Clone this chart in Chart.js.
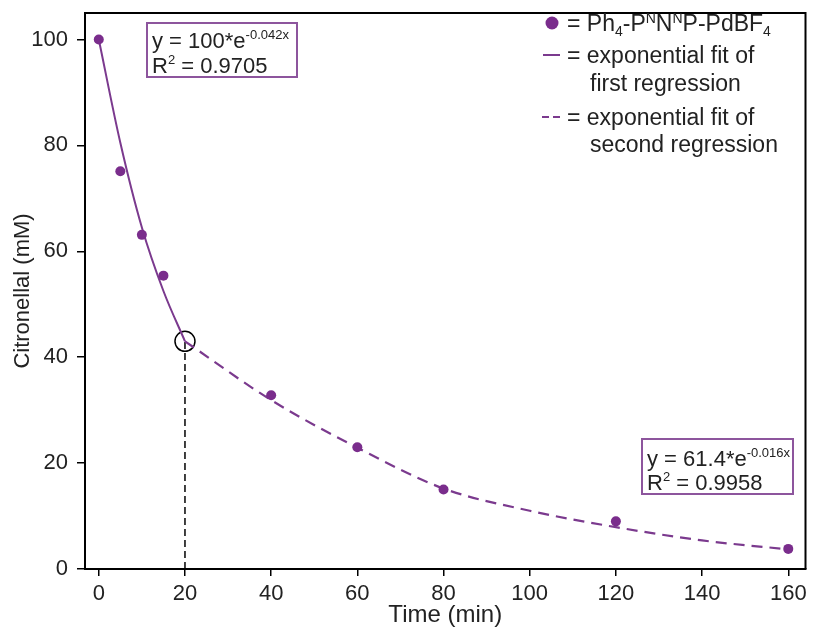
<!DOCTYPE html>
<html><head><meta charset="utf-8">
<script src="https://cdn.jsdelivr.net/npm/chart.js@4/dist/chart.umd.min.js"></script>
<style>html,body{margin:0;padding:0;background:#fff}</style>
</head><body>
<canvas id="c" width="817" height="630"></canvas>
<script>
// ---- data ----
const timeMin = [0, 5, 10, 15, 40, 60, 80, 120, 160];
const citronellal = [100, 75.1, 63.1, 55.4, 32.8, 23.0, 15.0, 9.0, 3.8];
const fit1Time = [0, 5, 10, 15, 20];
const fit1Value = [100, 80.5, 64.5, 52.5, 43.0];
const fit2Time = [20, 40, 60, 80, 100, 120, 140, 160];
const fit2Value = [43.0, 31.9, 22.9, 15.2, 11.0, 7.9, 5.4, 3.7];
const breakTime = [20, 20];
const breakValue = [0, 43.0];
const xTicks = [0, 20, 40, 60, 80, 100, 120, 140, 160];
const yTicks = [0, 20, 40, 60, 80, 100];

const FONT = "'Liberation Sans', Arial, sans-serif";
const PURPLE = '#7a2d8c';
const LINE = '#7b3a8e';
const BOX = '#8d559d';
const TXT = '#222';

const pts = (xs, ys) => xs.map((x, i) => ({x, y: ys[i]}));

function runs(ctx, x, y, list) {
  for (const r of list) {
    ctx.font = r.s + 'px ' + FONT;
    ctx.fillText(r.t, x, y + (r.dy || 0));
    x += ctx.measureText(r.t).width;
  }
}

const overlay = {
  id: 'overlay',
  afterDatasetsDraw(chart) {
    const ctx = chart.ctx, a = chart.chartArea;
    ctx.save();
    // frame top & right
    ctx.strokeStyle = '#000'; ctx.lineWidth = 2;
    ctx.beginPath();
    ctx.moveTo(a.left, a.top); ctx.lineTo(a.right, a.top); ctx.lineTo(a.right, a.bottom);
    ctx.stroke();

    ctx.fillStyle = TXT; ctx.textBaseline = 'alphabetic'; ctx.textAlign = 'left';
    // annotation box 1
    ctx.strokeStyle = BOX; ctx.lineWidth = 2;
    ctx.strokeRect(147, 23, 150, 54);
    runs(ctx, 152, 48, [{t:'y = 100*e', s:22}, {t:'-0.042x', s:13, dy:-9}]);
    runs(ctx, 152, 73, [{t:'R', s:22}, {t:'2', s:13, dy:-9}, {t:' = 0.9705', s:22}]);
    // annotation box 2
    ctx.strokeRect(642, 439, 151, 55);
    runs(ctx, 647, 466, [{t:'y = 61.4*e', s:22}, {t:'-0.016x', s:13, dy:-9}]);
    runs(ctx, 647, 490, [{t:'R', s:22}, {t:'2', s:13, dy:-9}, {t:' = 0.9958', s:22}]);

    // legend
    ctx.fillStyle = PURPLE;
    ctx.beginPath(); ctx.arc(552, 23, 6.5, 0, Math.PI * 2); ctx.fill();
    ctx.strokeStyle = LINE; ctx.lineWidth = 2;
    ctx.beginPath(); ctx.moveTo(543, 55); ctx.lineTo(560, 55); ctx.stroke();
    ctx.setLineDash([7, 4]);
    ctx.beginPath(); ctx.moveTo(542, 117); ctx.lineTo(560, 117); ctx.stroke();
    ctx.setLineDash([]);
    ctx.fillStyle = TXT;
    runs(ctx, 567, 31, [{t:'= Ph', s:23}, {t:'4', s:14, dy:5}, {t:'-P', s:23}, {t:'N', s:14, dy:-8},
      {t:'N', s:23}, {t:'N', s:14, dy:-8}, {t:'P-PdBF', s:23}, {t:'4', s:14, dy:5}]);
    runs(ctx, 567, 63, [{t:'= exponential fit of', s:23}]);
    runs(ctx, 590, 91, [{t:'first regression', s:23}]);
    runs(ctx, 567, 125, [{t:'= exponential fit of', s:23}]);
    runs(ctx, 590, 152, [{t:'second regression', s:23}]);
    ctx.restore();
  }
};

new Chart(document.getElementById('c'), {
  type: 'scatter',
  data: {
    datasets: [
      { data: pts(timeMin, citronellal), pointRadius: 5, pointBackgroundColor: PURPLE, pointBorderWidth: 0, showLine: false },
      { data: pts(fit1Time, fit1Value), showLine: true, pointRadius: 0, borderColor: LINE, borderWidth: 2, cubicInterpolationMode: 'monotone' },
      { data: pts(fit2Time, fit2Value), showLine: true, pointRadius: 0, borderColor: LINE, borderWidth: 2.2, borderDash: [11, 7], cubicInterpolationMode: 'monotone' },
      { data: pts(breakTime, breakValue), showLine: true, pointRadius: 0, borderColor: '#000', borderWidth: 1.5, borderDash: [7, 4] },
      { data: [{x: breakTime[1], y: breakValue[1]}], pointRadius: 10, pointBackgroundColor: 'rgba(0,0,0,0)', pointBorderColor: '#000', pointBorderWidth: 1.5, showLine: false }
    ]
  },
  options: {
    responsive: false, animation: false,
    layout: { padding: { top: 13, right: 3, left: 0, bottom: 0 } },
    plugins: { legend: { display: false }, tooltip: { enabled: false } },
    scales: {
      x: {
        type: 'linear', min: -3.2, max: 164,
        afterBuildTicks: s => { s.ticks = xTicks.map(v => ({value: v})); },
        afterFit: s => { s.height = 61; s.paddingLeft = 0; s.paddingRight = 0; },
        grid: { drawOnChartArea: false, drawTicks: true, tickLength: 7, color: '#000', lineWidth: 1.5 },
        border: { display: true, color: '#000', width: 2 },
        ticks: { font: { family: FONT, size: 22 }, color: TXT, padding: 5, maxRotation: 0, autoSkip: false },
        title: { display: true, text: 'Time (min)', font: { family: FONT, size: 24 }, color: TXT, padding: { top: 0, bottom: 0 } }
      },
      y: {
        type: 'linear', min: 0, max: 105,
        afterBuildTicks: s => { s.ticks = yTicks.map(v => ({value: v})); },
        afterFit: s => { s.width = 85; s.paddingTop = 0; s.paddingBottom = 0; },
        grid: { drawOnChartArea: false, drawTicks: true, tickLength: 8, color: '#000', lineWidth: 1.5 },
        border: { display: true, color: '#000', width: 2 },
        ticks: { font: { family: FONT, size: 22 }, color: TXT, padding: 9, autoSkip: false },
        title: { display: true, text: 'Citronellal (mM)', font: { family: FONT, size: 22 }, color: TXT, padding: { top: 10, bottom: 0 } }
      }
    }
  },
  plugins: [overlay]
});
</script>
</body></html>
